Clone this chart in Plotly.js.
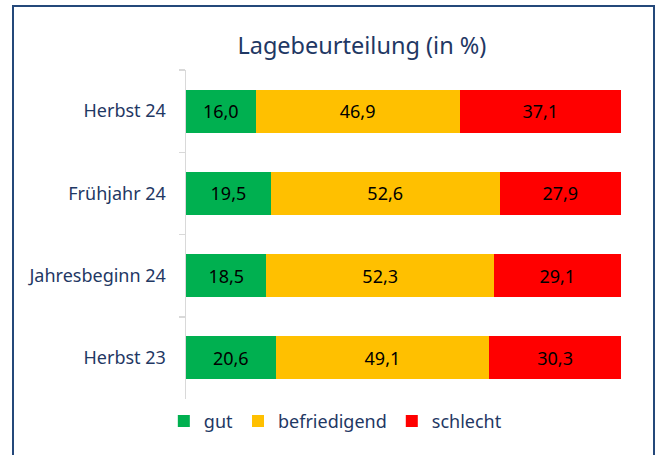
<!DOCTYPE html>
<html>
<head>
<meta charset="utf-8">
<script src="https://cdn.plot.ly/plotly-3.0.1.min.js"></script>
<style>
  html, body { margin: 0; padding: 0; background: #fff; }
  #wrap { position: relative; width: 664px; height: 455px; overflow: hidden; }
  #frame { position: absolute; left: 12px; top: 5px; width: 643px; height: 470px; border: 2px solid #24487a; box-sizing: border-box; pointer-events: none; z-index: 5; }
  #chart { position: absolute; left: 0; top: 0; width: 664px; height: 455px; }
</style>
</head>
<body>
<div id="wrap">
  <div id="chart"></div>
  <div id="frame"></div>
</div>
<script>
const categories = ["Herbst 24", "Frühjahr 24", "Jahresbeginn 24", "Herbst 23"];
const gut = [16.0, 19.5, 18.5, 20.6];
const befriedigend = [46.9, 52.6, 52.3, 49.1];
const schlecht = [37.1, 27.9, 29.1, 30.3];
const seriesNames = ["gut", "befriedigend", "schlecht"];
const seriesColors = ["#00B050", "#FFC000", "#FF0000"];
const seriesValues = [gut, befriedigend, schlecht];

const navy = "#1F3864";
const FONT = "Noto Sans, sans-serif";

const traces = seriesValues.map((vals, i) => ({
  type: "bar",
  orientation: "h",
  name: seriesNames[i],
  y: categories,
  x: vals,
  marker: { color: seriesColors[i] },
  texttemplate: "%{x:.1f}",
  textposition: "inside",
  insidetextanchor: "middle",
  insidetextfont: { family: FONT, size: 18, color: "#000000" },
  hoverinfo: "none"
}));

const layout = {
  width: 664,
  height: 455,
  paper_bgcolor: "#ffffff",
  plot_bgcolor: "#ffffff",
  separators: ",.",
  barmode: "stack",
  bargap: 0.48,
  margin: { l: 186, r: 43, t: 70, b: 56 },
  font: { family: FONT, color: navy },
  title: {
    text: "Lagebeurteilung (in %)",
    font: { family: FONT, size: 23.5, color: navy },
    xref: "container",
    x: 0.545,
    xanchor: "center",
    yref: "container",
    y: 0.9,
    yanchor: "middle"
  },
  xaxis: {
    range: [0, 100],
    visible: false,
    fixedrange: true
  },
  yaxis: {
    type: "category",
    autorange: "reversed",
    showline: true,
    linecolor: "#D9D9D9",
    linewidth: 1.5,
    ticks: "outside",
    tickson: "boundaries",
    ticklen: 6,
    tickwidth: 1.5,
    tickcolor: "#D9D9D9",
    ticklabelstandoff: 15,
    tickfont: { family: FONT, size: 18, color: navy },
    showgrid: false,
    zeroline: false,
    fixedrange: true
  },
  showlegend: true,
  legend: {
    orientation: "h",
    xref: "container",
    yref: "container",
    x: 0.505,
    xanchor: "center",
    y: 0.074,
    yanchor: "middle",
    font: { family: FONT, size: 18, color: navy },
    traceorder: "normal",
    itemwidth: 30,
    bgcolor: "rgba(0,0,0,0)"
  }
};

Plotly.newPlot("chart", traces, layout, { displayModeBar: false, staticPlot: true });
</script>
</body>
</html>
